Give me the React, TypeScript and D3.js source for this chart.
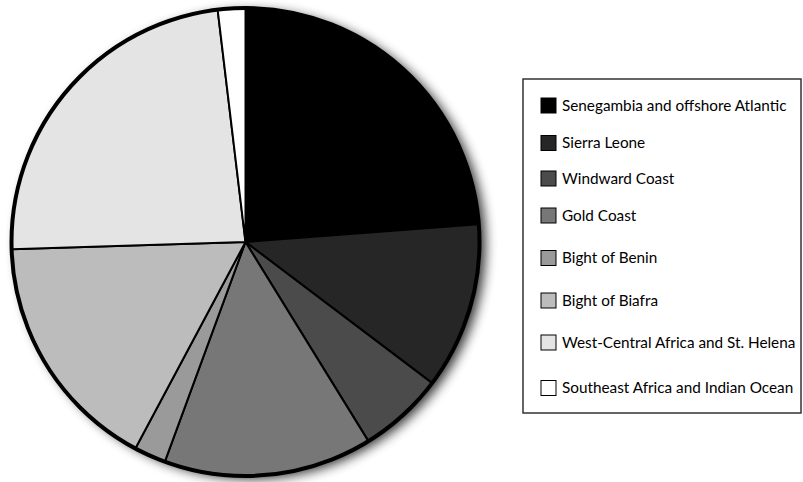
import React from "react";
import * as d3 from "d3";

const categories = [
  "Senegambia and offshore Atlantic",
  "Sierra Leone",
  "Windward Coast",
  "Gold Coast",
  "Bight of Benin",
  "Bight of Biafra",
  "West-Central Africa and St. Helena",
  "Southeast Africa and Indian Ocean",
];
const values = [23.8, 11.5, 5.9, 14.4, 2.2, 16.7, 23.6, 1.9];
const colors = ["#000000", "#262626", "#4b4b4b", "#777777", "#9a9a9a", "#bcbcbc", "#e4e4e4", "#ffffff"];
const legendRowY = [105.5, 143, 178.5, 215.5, 258, 300.5, 342.5, 388];

export default function App() {
  const W = 803, H = 482;
  const cx = 245.5, cy = 242, r = 234;
  const pie = d3.pie<number>().sort(null).value((d) => d).startAngle(0).endAngle(2 * Math.PI);
  const arcs = pie(values);
  const arcGen = d3.arc<d3.PieArcDatum<number>>().innerRadius(0).outerRadius(r);
  return (
    <svg width={W} height={H} style={{ position: "absolute", left: 0, top: 0, background: "#fff" }}>
      <defs>
        <filter id="sh" x="-20%" y="-20%" width="140%" height="140%">
          <feGaussianBlur in="SourceAlpha" stdDeviation="6" />
          <feOffset dx="6" dy="3" result="b" />
          <feComponentTransfer><feFuncA type="linear" slope="0.8" /></feComponentTransfer>
          <feMerge>
            <feMergeNode />
            <feMergeNode in="SourceGraphic" />
          </feMerge>
        </filter>
      </defs>
      <g transform={`translate(${cx},${cy})`}>
        <circle r={r} fill="#fff" filter="url(#sh)" />
        {arcs.map((a, i) => (
          <path key={i} d={arcGen(a) || ""} fill={colors[i]} stroke="#000" strokeWidth={2} strokeLinejoin="round" />
        ))}
        <circle r={r} fill="none" stroke="#000" strokeWidth={4} />
      </g>
      <rect x={523} y={79} width={278} height={334} fill="#fff" stroke="#333" strokeWidth={1.5} />
      {categories.map((c, i) => (
        <g key={i}>
          <rect x={541} y={legendRowY[i] - 7.5} width={15} height={15} fill={colors[i]} stroke="#000" strokeWidth={1} />
          <text x={562} y={legendRowY[i]} dy="0.35em" fontFamily="Lato, sans-serif" fontSize={15.3} fill="#000">
            {c}
          </text>
        </g>
      ))}
    </svg>
  );
}
